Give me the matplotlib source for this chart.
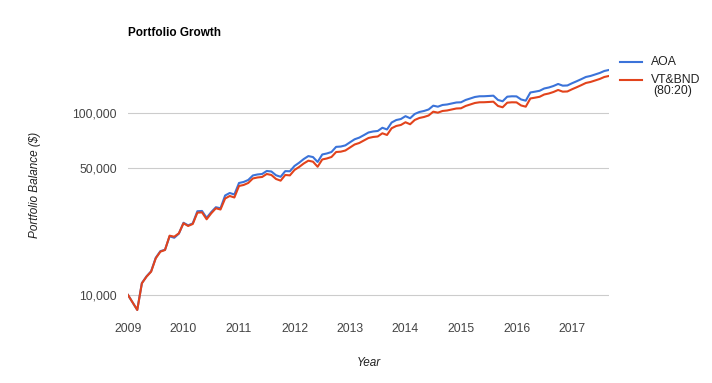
import numpy as np
import matplotlib
matplotlib.use("Agg")
from matplotlib import pyplot as plt
from matplotlib.lines import Line2D

# monthly balances, Jan 2009 start through Sep 2017
start_year = 2009
aoa = [10000, 9100, 8290, 11620, 12650, 13500, 16000, 17400, 17700, 21000,
       20600, 21700, 24900, 24100, 24700, 28800, 28900, 26500, 28500, 30300,
       29900, 35140, 36270, 35580, 41150, 41680, 42750, 45250, 45820, 46110,
       47880, 47580, 45370, 44490, 47810, 47700, 51020, 53140, 55690, 57810,
       57080, 53640, 58980, 59740, 60870, 64940, 65190, 66170, 68800, 71460,
       72960, 75310, 77870, 78870, 79360, 82640, 80890, 88300, 91130, 92300,
       95690, 93200, 98380, 100880, 102160, 104120, 109240, 107870, 110210, 110910,
       112330, 113740, 114030, 117410, 119630, 121920, 123000, 123080, 123480, 123940,
       117410, 115490, 122380, 123000, 122860, 118140, 116360, 129070, 130380, 131860,
       135740, 137470, 140100, 143700, 140650, 141010, 144990, 148680, 152670, 156980,
       158990, 162010, 165140, 169350, 171500]
vt_bnd = [10000, 9097, 8275, 11592, 12602, 13425, 15897, 17280, 17652, 21150,
          20880, 21800, 24740, 23910, 24520, 28280, 28400, 26020, 28060, 29900,
          29440, 33830, 34920, 34260, 39620, 40130, 41160, 43570, 44120, 44400,
          46100, 45530, 43290, 42370, 45530, 45300, 48500, 50370, 52640, 54540,
          53850, 50500, 55380, 56090, 57150, 60860, 61100, 62020, 64420, 66910,
          68190, 70380, 72640, 73570, 74030, 77090, 75460, 82140, 84540, 85620,
          88600, 86400, 91200, 93520, 94710, 96520, 101270, 100000, 102170, 102820,
          104130, 105440, 105710, 108840, 110900, 113020, 114030, 114100, 114470, 114900,
          108840, 107060, 113450, 114030, 113900, 109520, 107870, 119650, 120870, 122240,
          125840, 127440, 129880, 133210, 130390, 130720, 134410, 137830, 141530, 145530,
          147390, 150190, 153090, 156990, 158990]
year_ticks = [2009, 2010, 2011, 2012, 2013, 2014, 2015, 2016, 2017]
y_ticks = [10000, 50000, 100000]
y_labels = ["10,000", "50,000", "100,000"]

blue = "#3b73d9"
red = "#e2431c"
txt = "#444444"
plt.rcParams["font.family"] = ["Liberation Sans", "DejaVu Sans"]

t = start_year + np.arange(len(aoa)) / 12.0

fig = plt.figure(figsize=(7.12, 3.83), dpi=100, facecolor="w")
ax = fig.add_axes([128 / 712, 70 / 383, 481 / 712, 253 / 383])
ax.plot(t, aoa, color=blue, lw=1.5, solid_joinstyle="round")
ax.plot(t, vt_bnd, color=red, lw=1.5, solid_joinstyle="round")
ax.set_yscale("log")
ax.set_xlim(t[0], t[-1])
ax.set_ylim(7966, 194500)
ax.set_yticks(y_ticks)
ax.set_yticklabels(y_labels)
ax.yaxis.set_minor_locator(matplotlib.ticker.NullLocator())
ax.set_xticks(year_ticks)
ax.set_xticklabels([str(y) for y in year_ticks])
ax.grid(axis="y", color="#cccccc", lw=0.8)
ax.set_axisbelow(True)
for s in ax.spines.values():
    s.set_visible(False)
ax.tick_params(axis="both", length=0, labelsize=8.8, colors=txt)
ax.tick_params(axis="y", pad=8)
ax.tick_params(axis="x", pad=7)

fig.text(128 / 712, 1 - 33 / 383, "Portfolio Growth", fontsize=8.5,
         fontweight="bold", va="center", ha="left", color="#000000")
fig.text(35 / 712, 1 - 185 / 383, "Portfolio Balance ($)", fontsize=8.5,
         style="italic", rotation=90, va="center", ha="center", color="#222222")
fig.text(369 / 712, 1 - 363 / 383, "Year", fontsize=8.5, style="italic",
         va="center", ha="center", color="#222222")

# legend
for yy, col in [(62, blue), (80, red)]:
    fig.add_artist(Line2D([620 / 712, 642 / 712], [1 - yy / 383] * 2,
                          color=col, lw=1.5))
fig.text(651 / 712, 1 - 62 / 383, "AOA", fontsize=8.8, va="center", color="#222222")
fig.text(651 / 712, 1 - 80 / 383, "VT&BND", fontsize=8.8, va="center", color="#222222")
fig.text(653 / 712, 1 - 91 / 383, "(80:20)", fontsize=8.8, va="center", color="#222222")

fig.savefig("out.png", dpi=100, facecolor="w")
plt.close(fig)
